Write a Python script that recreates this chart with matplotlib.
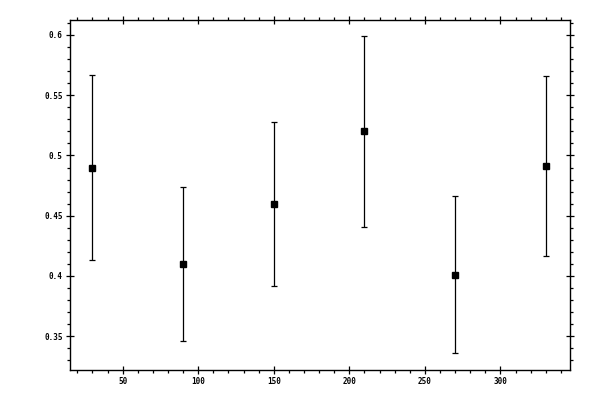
import matplotlib
matplotlib.use("Agg")
import matplotlib.pyplot as plt
from matplotlib.ticker import MultipleLocator

# data
angles = [30, 90, 150, 210, 270, 330]
values = [0.490, 0.410, 0.460, 0.520, 0.401, 0.491]
errors = [0.0765, 0.064, 0.068, 0.079, 0.065, 0.0748]

fig = plt.figure(figsize=(6, 4), dpi=100)
ax = fig.add_axes([69.5 / 600, 30 / 400, 500.5 / 600, 350.5 / 400])

ax.errorbar(angles, values, yerr=errors, fmt="s", color="black",
            markersize=5, elinewidth=0.9, capsize=2, capthick=0.9)

ax.set_xlim(14.8, 346)
ax.set_ylim(0.322, 0.6128)

ax.xaxis.set_major_locator(MultipleLocator(50))
ax.xaxis.set_minor_locator(MultipleLocator(10))
ax.yaxis.set_major_locator(MultipleLocator(0.05))
ax.yaxis.set_minor_locator(MultipleLocator(0.01))
ax.yaxis.set_major_formatter(lambda v, pos: f"{v:g}")

for side in ax.spines.values():
    side.set_linewidth(1.0)

ax.tick_params(which="both", top=True, right=True, width=0.9)
ax.tick_params(which="major", direction="inout", length=6, pad=2)
ax.tick_params(which="minor", direction="out", length=2.4)

for lab in ax.get_xticklabels() + ax.get_yticklabels():
    lab.set_fontfamily("DejaVu Sans Mono")
    lab.set_fontsize(5.5)
    lab.set_fontweight("bold")

fig.savefig("out.png", dpi=100)
